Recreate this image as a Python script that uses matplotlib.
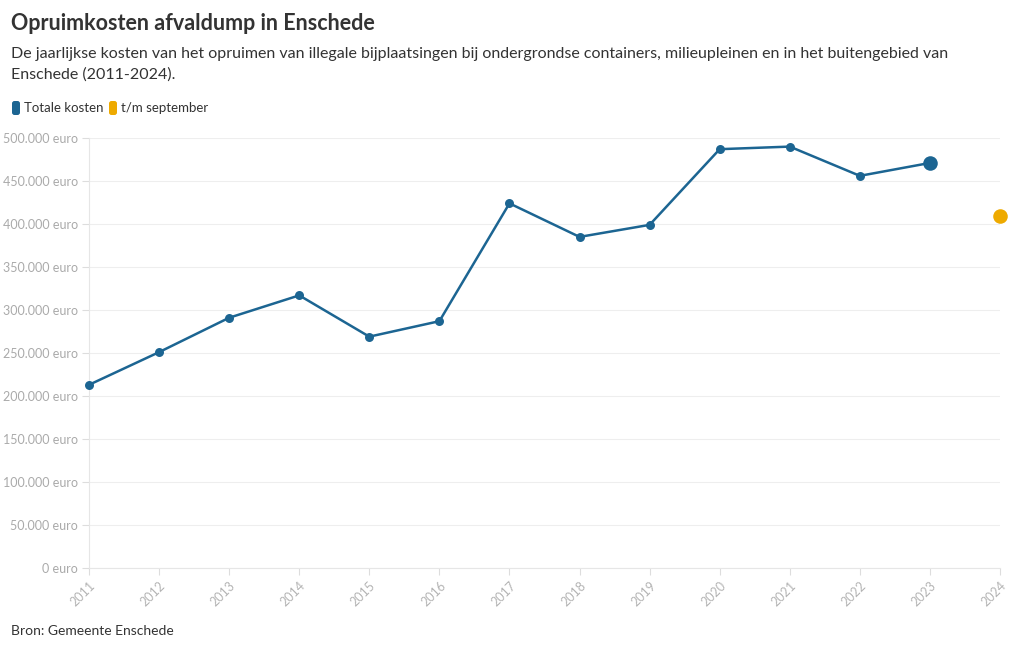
import matplotlib
matplotlib.use("Agg")
import matplotlib.pyplot as plt
from matplotlib.patches import FancyBboxPatch
from matplotlib.ticker import FuncFormatter

years = [2011, 2012, 2013, 2014, 2015, 2016, 2017, 2018, 2019, 2020, 2021, 2022, 2023]
totale_kosten = [213000, 251000, 291000, 317000, 269000, 287000, 424000, 385000, 399000, 487000, 490000, 456000, 471000]
partial_year = [2024]
partial_value = [409000]
tick_years = list(range(2011, 2025))
y_ticks = [0, 50000, 100000, 150000, 200000, 250000, 300000, 350000, 400000, 450000, 500000]

BLUE = "#1c6592"
YELLOW = "#eeaa00"
FONT = ["Lato", "DejaVu Sans"]
plt.rcParams['font.family'] = FONT

W, H = 1020, 650
fig = plt.figure(figsize=(W / 100, H / 100), dpi=100)
ax = fig.add_axes([89 / W, 1 - 568 / H, (1000 - 89) / W, (568 - 138) / H])

ax.plot(years, totale_kosten, color=BLUE, lw=1.8, zorder=3, clip_on=False)
ax.scatter(years[:-1], totale_kosten[:-1], s=42, color=BLUE, zorder=4, linewidths=0, clip_on=False)
ax.scatter(years[-1:], totale_kosten[-1:], s=110, color=BLUE, zorder=4, linewidths=0, clip_on=False)
ax.scatter(partial_year, partial_value, s=110, color=YELLOW, zorder=4, linewidths=0, clip_on=False)

ax.set_xlim(2011, 2024)
ax.set_ylim(0, 500000)
ax.set_xticks(tick_years)
ax.set_xticklabels([str(y) for y in tick_years], rotation=45, ha="right", va="top",
                   rotation_mode="anchor", color="#b4b4b4", fontsize=9)
ax.set_yticks(y_ticks)
ax.yaxis.set_major_formatter(FuncFormatter(lambda v, p: f"{int(v):,}".replace(",", ".") + " euro"))
ax.tick_params(axis="y", colors="#dddddd", labelcolor="#aaaaaa", labelsize=9, length=5, width=0.8, pad=3)
ax.tick_params(axis="x", colors="#dddddd", labelcolor="#b4b4b4", length=5, width=0.8, pad=3)
ax.grid(axis="y", color="#eeeeee", lw=0.8)
for s in ["top", "right"]:
    ax.spines[s].set_visible(False)
for s in ["left", "bottom"]:
    ax.spines[s].set_color("#e6e6e6")
    ax.spines[s].set_linewidth(0.8)
ax.set_axisbelow(True)

fig.text(11 / W, 1 - 24 / H, "Opruimkosten afvaldump in Enschede", fontsize=15.5,
         fontweight="bold", color="#333333", va="center", ha="left")
fig.text(11 / W, 1 - 54 / H,
         "De jaarlijkse kosten van het opruimen van illegale bijplaatsingen bij ondergrondse containers, milieupleinen en in het buitengebied van",
         fontsize=11.5, color="#333333", va="center", ha="left")
fig.text(11 / W, 1 - 75 / H, "Enschede (2011-2024).", fontsize=11.5, color="#333333", va="center", ha="left")

# legend (pixel coordinates)
def legend_item(x, label, color):
    p = FancyBboxPatch((x, H - 115), 8, 14,
                       boxstyle="round,pad=0,rounding_size=2.5",
                       transform=None, color=color, linewidth=0)
    fig.patches.append(p)
    fig.text((x + 12) / W, 1 - 108 / H, label, fontsize=9.5, color="#333333", va="center", ha="left")

legend_item(12, "Totale kosten", BLUE)
legend_item(109, "t/m september", YELLOW)

fig.text(11 / W, 1 - 631 / H, "Bron: Gemeente Enschede", fontsize=10, color="#333333", va="center", ha="left")

fig.savefig("out.png", dpi=100, facecolor="white")
